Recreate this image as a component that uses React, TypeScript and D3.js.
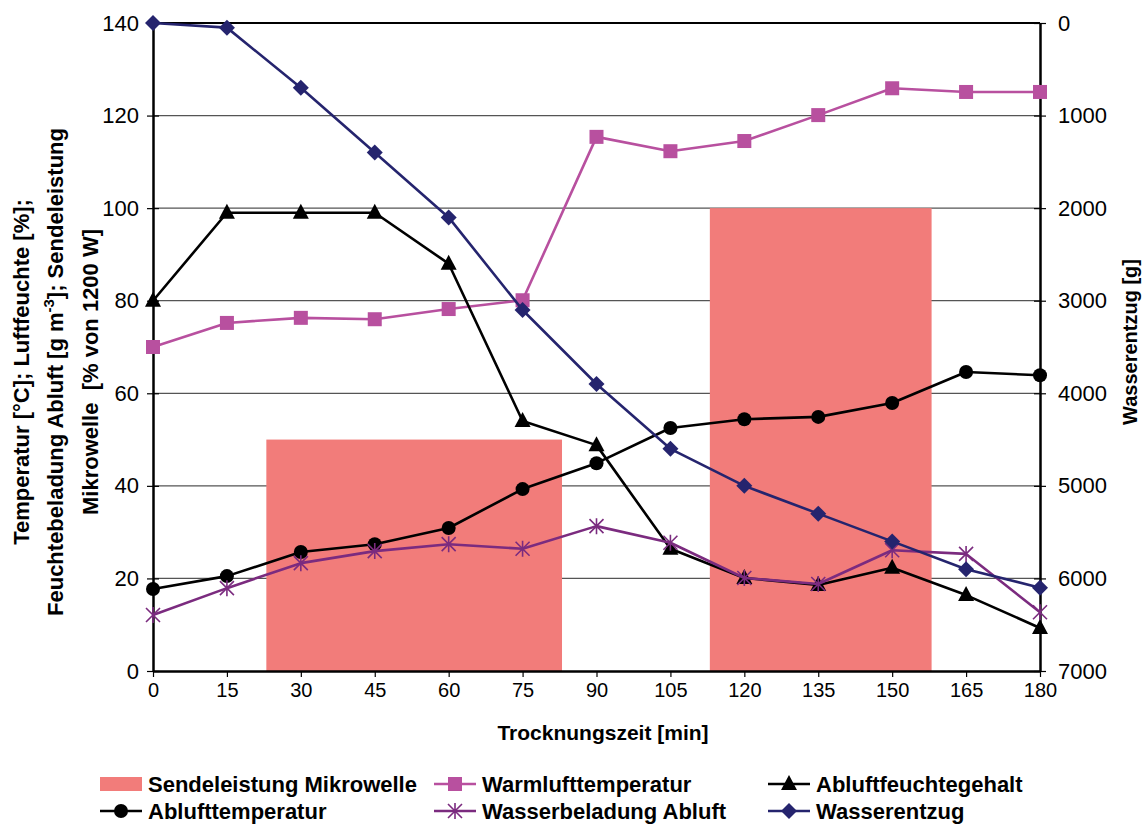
import React, { useEffect, useRef } from "react";
import * as d3 from "d3";

// Trocknungszeit [min]
const times = [0, 15, 30, 45, 60, 75, 90, 105, 120, 135, 150, 165, 180];

// left axis series
const warmluft = [70, 75.2, 76.3, 76, 78.2, 80.1, 115.4, 112.3, 114.5, 120.1, 125.9, 125.1, 125.1];
const abluftFeuchte = [80, 99, 99, 99, 88, 54, 48.8, 26.4, 20.1, 18.6, 22.3, 16.4, 9.3];
const abluftTemp = [17.7, 20.5, 25.7, 27.4, 30.9, 39.3, 44.9, 52.5, 54.4, 54.9, 57.9, 64.6, 63.9];
const wasserBeladung = [12.1, 17.9, 23.3, 25.9, 27.4, 26.4, 31.3, 27.7, 20.1, 18.8, 26.1, 25.3, 12.7];

// right axis series [g]
const wasserentzug = [0, 50, 700, 1400, 2100, 3100, 3900, 4600, 5000, 5300, 5600, 5900, 6100];

// Sendeleistung Mikrowelle, % von 1200 W
const mwStart = [23, 113];
const mwEnd = [83, 158];
const mwPower = [50, 100];

const leftTicks = [0, 20, 40, 60, 80, 100, 120, 140];
const rightTicks = [0, 1000, 2000, 3000, 4000, 5000, 6000, 7000];
const timeTicks = times;

const FONT = "Arial, 'Liberation Sans', sans-serif";
const C_WARM = "#b8509f";
const C_NAVY = "#25246e";
const C_PURPLE = "#7b2b7f";
const C_BAR = "#f27c7a";

const W = 1147;
const H = 827;
const M = { left: 153, right: 1040, top: 23, bottom: 671 };

type MarkerKind = "square" | "triangle" | "circle" | "star" | "diamond";

function drawMarker(g: any, kind: MarkerKind, x: number, y: number, color: string) {
  if (kind === "square") {
    g.append("rect").attr("x", x - 7).attr("y", y - 7).attr("width", 14).attr("height", 14).attr("fill", color);
  } else if (kind === "triangle") {
    g.append("path").attr("d", `M${x},${y - 9}L${x + 8},${y + 6}L${x - 8},${y + 6}Z`).attr("fill", color);
  } else if (kind === "circle") {
    g.append("circle").attr("cx", x).attr("cy", y).attr("r", 7).attr("fill", color);
  } else if (kind === "diamond") {
    g.append("path").attr("d", `M${x},${y - 8}L${x + 8},${y}L${x},${y + 8}L${x - 8},${y}Z`).attr("fill", color);
  } else {
    const s = 7;
    g.append("path")
      .attr("d", `M${x - s},${y - s}L${x + s},${y + s}M${x - s},${y + s}L${x + s},${y - s}M${x},${y - s - 1}L${x},${y + s + 1}`)
      .attr("stroke", color).attr("stroke-width", 1.6).attr("fill", "none");
  }
}

const App = () => {
  const ref = useRef<SVGSVGElement>(null);

  useEffect(() => {
    const svg = d3.select(ref.current);
    svg.selectAll("*").remove();

    const x = d3.scaleLinear().domain([0, 180]).range([M.left, M.right]);
    const yL = d3.scaleLinear().domain([0, 140]).range([M.bottom, M.top]);
    const yR = d3.scaleLinear().domain([0, 7000]).range([M.top, M.bottom]);

    // gridlines
    svg.append("g")
      .selectAll("line")
      .data(leftTicks.filter(d => d > 0 && d < 140))
      .enter()
      .append("line")
      .attr("x1", M.left).attr("x2", M.right)
      .attr("y1", d => yL(d)).attr("y2", d => yL(d))
      .attr("stroke", "#555").attr("stroke-width", 1.2);

    // microwave bars
    svg.append("g")
      .selectAll("rect")
      .data(mwPower)
      .enter()
      .append("rect")
      .attr("x", (d, i) => x(mwStart[i]))
      .attr("width", (d, i) => x(mwEnd[i]) - x(mwStart[i]))
      .attr("y", d => yL(d))
      .attr("height", d => yL(0) - yL(d))
      .attr("fill", C_BAR);

    // top border
    svg.append("line")
      .attr("x1", M.left).attr("x2", M.right)
      .attr("y1", M.top).attr("y2", M.top)
      .attr("stroke", "#000").attr("stroke-width", 2);

    // axes
    const leftAxis = svg.append("g")
      .attr("transform", `translate(${M.left},0)`)
      .call(d3.axisLeft(yL).tickValues(leftTicks).tickSize(6).tickSizeOuter(0).tickPadding(8));
    const rightAxis = svg.append("g")
      .attr("transform", `translate(${M.right},0)`)
      .call(d3.axisRight(yR).tickValues(rightTicks).tickFormat(d3.format("d")).tickSize(6).tickSizeOuter(0).tickPadding(12));
    const bottomAxis = svg.append("g")
      .attr("transform", `translate(0,${M.bottom})`)
      .call(d3.axisBottom(x).tickValues(timeTicks).tickSize(6).tickSizeOuter(0).tickPadding(6));

    [leftAxis, rightAxis, bottomAxis].forEach(a => {
      a.select(".domain").attr("stroke", "#000").attr("stroke-width", 2.5);
      a.selectAll(".tick line").attr("stroke", "#000").attr("stroke-width", 1.2);
      a.selectAll(".tick text").attr("fill", "#000").style("font-family", FONT);
    });
    leftAxis.selectAll(".tick text").style("font-size", "22px");
    rightAxis.selectAll(".tick text").style("font-size", "22px");
    bottomAxis.selectAll(".tick text").style("font-size", "20px");
    // cross ticks on the left/right axis
    leftAxis.selectAll(".tick line").attr("x2", -6).attr("x1", 6);
    rightAxis.selectAll(".tick line").attr("x1", -6);

    // line series
    const series: { vals: number[]; color: string; kind: MarkerKind; y: any }[] = [
      { vals: warmluft, color: C_WARM, kind: "square", y: yL },
      { vals: abluftTemp, color: "#000", kind: "circle", y: yL },
      { vals: abluftFeuchte, color: "#000", kind: "triangle", y: yL },
      { vals: wasserBeladung, color: C_PURPLE, kind: "star", y: yL },
      { vals: wasserentzug, color: C_NAVY, kind: "diamond", y: yR },
    ];

    series.forEach(s => {
      const line = d3.line<number>()
        .x((d, i) => x(times[i]))
        .y(d => s.y(d));
      svg.append("path")
        .attr("d", line(s.vals))
        .attr("fill", "none")
        .attr("stroke", s.color)
        .attr("stroke-width", 2.6)
        .attr("stroke-linejoin", "round");
      const g = svg.append("g");
      s.vals.forEach((v, i) => drawMarker(g, s.kind, x(times[i]), s.y(v), s.color));
    });

    // axis titles
    const leftTitle = [
      "Temperatur [°C]; Luftfeuchte [%];",
      null,
      "Mikrowelle\u00a0 [% von 1200 W]",
    ];
    const ltX = [29, 63, 98];
    const ltY = 372;
    leftTitle.forEach((t, i) => {
      const txt = svg.append("text")
        .attr("transform", `translate(${ltX[i]},${ltY}) rotate(-90)`)
        .attr("text-anchor", "middle")
        .style("font-family", FONT).style("font-weight", "bold").style("font-size", "22px")
        .attr("fill", "#000");
      if (t) {
        txt.text(t);
      } else {
        txt.append("tspan").text("Feuchtebeladung Abluft [g m");
        txt.append("tspan").attr("dy", -9).style("font-size", "15px").text("-3");
        txt.append("tspan").attr("dy", 9).text("]; Sendeleistung");
      }
    });

    svg.append("text")
      .attr("transform", `translate(1137,342) rotate(-90)`)
      .attr("text-anchor", "middle")
      .style("font-family", FONT).style("font-weight", "bold").style("font-size", "20px")
      .text("Wasserentzug [g]");

    svg.append("text")
      .attr("x", 603).attr("y", 740)
      .attr("text-anchor", "middle")
      .style("font-family", FONT).style("font-weight", "bold").style("font-size", "21px")
      .text("Trocknungszeit [min]");

    // legend
    const legendItems: { label: string; color: string; kind: MarkerKind | "bar"; col: number; row: number }[] = [
      { label: "Sendeleistung Mikrowelle", color: C_BAR, kind: "bar", col: 0, row: 0 },
      { label: "Warmlufttemperatur", color: C_WARM, kind: "square", col: 1, row: 0 },
      { label: "Abluftfeuchtegehalt", color: "#000", kind: "triangle", col: 2, row: 0 },
      { label: "Ablufttemperatur", color: "#000", kind: "circle", col: 0, row: 1 },
      { label: "Wasserbeladung Abluft", color: C_PURPLE, kind: "star", col: 1, row: 1 },
      { label: "Wasserentzug", color: C_NAVY, kind: "diamond", col: 2, row: 1 },
    ];
    const colX = [100, 434, 768];
    const rowY = [784, 811];
    const lg = svg.append("g");
    legendItems.forEach(it => {
      const lx = colX[it.col];
      const ly = rowY[it.row];
      if (it.kind === "bar") {
        lg.append("rect").attr("x", lx).attr("y", ly - 7).attr("width", 42).attr("height", 14).attr("fill", it.color);
      } else {
        lg.append("line").attr("x1", lx).attr("x2", lx + 42).attr("y1", ly).attr("y2", ly)
          .attr("stroke", it.color).attr("stroke-width", 2.6);
        drawMarker(lg, it.kind, lx + 21, ly, it.color);
      }
      lg.append("text")
        .attr("x", lx + 48).attr("y", ly + 8)
        .style("font-family", FONT).style("font-weight", "bold").style("font-size", "22px")
        .text(it.label);
    });
  }, []);

  return (
    <svg
      ref={ref}
      width={W}
      height={H}
      style={{ position: "absolute", left: 0, top: 0, background: "#fff" }}
    />
  );
};

export default App;
